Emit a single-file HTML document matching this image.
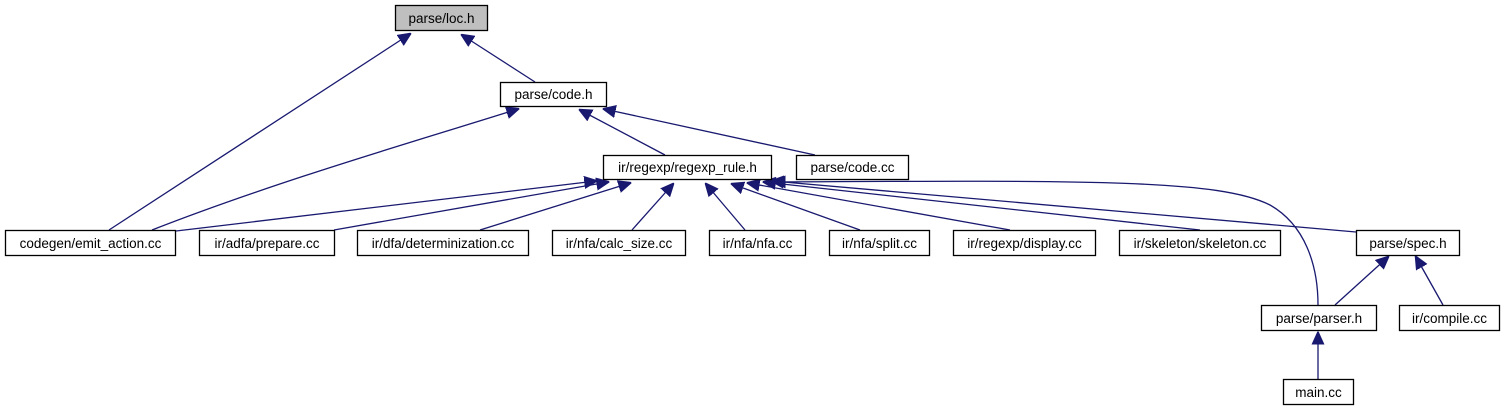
<!DOCTYPE html>
<html><head><meta charset="utf-8"><style>
html,body{margin:0;padding:0;background:#fff;width:1504px;height:411px;overflow:hidden}
svg{display:block}
text{font-family:"Liberation Sans",Arial,sans-serif;font-size:13.5px;fill:#000}
.n{fill:#fff;stroke:#000;stroke-width:1.3}
.e{fill:none;stroke:#191970;stroke-width:1.3}
</style></head><body>
<svg width="1504" height="411" viewBox="0 0 1504 411">
<defs><marker id="a" viewBox="0 0 10 10" refX="9" refY="5" markerWidth="13" markerHeight="13" markerUnits="userSpaceOnUse" orient="auto"><path d="M0,0.5 L10,5 L0,9.5 z" fill="#191970" stroke="#191970"/></marker></defs>
<g class="e" marker-end="url(#a)">
<path d="M109,230 L410,34"/>
<path d="M535,82 L462,35"/>
<path d="M152,230 C280,180 420,140 518,109"/>
<path d="M665,155 L580,110"/>
<path d="M815,155 L604,109"/>
<path d="M176,231 L596,181"/>
<path d="M334,230 L608,182"/>
<path d="M480,230 L630,183"/>
<path d="M632,230 L673,184"/>
<path d="M745,230 L706,184"/>
<path d="M860,230 L732,184"/>
<path d="M1010,230 L748,183"/>
<path d="M1200,230 L764,182"/>
<path d="M1356,232 L772,181"/>
<path d="M1318,305 C1318,265 1305,225 1270,205 C1220,180 1100,180 774,182"/>
<path d="M1335,305 L1388,257"/>
<path d="M1443,305 L1416,257"/>
<path d="M1318,379 L1318,333"/>
</g>
<rect x="395.5" y="5.5" width="92" height="25" fill="#bfbfbf" stroke="#000" stroke-width="1.3"/>
<text x="441.5" y="23" text-anchor="middle">parse/loc.h</text>
<rect class="n" x="500.5" y="82.5" width="106" height="24"/><text x="553.5" y="99" text-anchor="middle">parse/code.h</text>
<rect class="n" x="603.5" y="155.5" width="168" height="24"/><text x="687.5" y="172" text-anchor="middle">ir/regexp/regexp_rule.h</text>
<rect class="n" x="796.5" y="155.5" width="112" height="24"/><text x="852.5" y="172" text-anchor="middle">parse/code.cc</text>
<rect class="n" x="5.5" y="230.5" width="170" height="25"/><text x="90.5" y="248" text-anchor="middle">codegen/emit_action.cc</text>
<rect class="n" x="199.5" y="230.5" width="135" height="25"/><text x="267" y="248" text-anchor="middle">ir/adfa/prepare.cc</text>
<rect class="n" x="357.5" y="230.5" width="171" height="25"/><text x="443" y="248" text-anchor="middle">ir/dfa/determinization.cc</text>
<rect class="n" x="552.5" y="230.5" width="133" height="25"/><text x="619" y="248" text-anchor="middle">ir/nfa/calc_size.cc</text>
<rect class="n" x="709.5" y="230.5" width="96" height="25"/><text x="757.5" y="248" text-anchor="middle">ir/nfa/nfa.cc</text>
<rect class="n" x="829.5" y="230.5" width="100" height="25"/><text x="879.5" y="248" text-anchor="middle">ir/nfa/split.cc</text>
<rect class="n" x="953.5" y="230.5" width="142" height="25"/><text x="1024.5" y="248" text-anchor="middle">ir/regexp/display.cc</text>
<rect class="n" x="1119.5" y="230.5" width="161" height="25"/><text x="1200" y="248" text-anchor="middle">ir/skeleton/skeleton.cc</text>
<rect class="n" x="1356.5" y="230.5" width="103" height="25"/><text x="1408" y="248" text-anchor="middle">parse/spec.h</text>
<rect class="n" x="1261.5" y="305.5" width="115" height="25"/><text x="1319" y="323" text-anchor="middle">parse/parser.h</text>
<rect class="n" x="1399.5" y="305.5" width="100" height="25"/><text x="1449.5" y="323" text-anchor="middle">ir/compile.cc</text>
<rect class="n" x="1283.5" y="379.5" width="70" height="25"/><text x="1318.5" y="397" text-anchor="middle">main.cc</text>
</svg>
</body></html>
